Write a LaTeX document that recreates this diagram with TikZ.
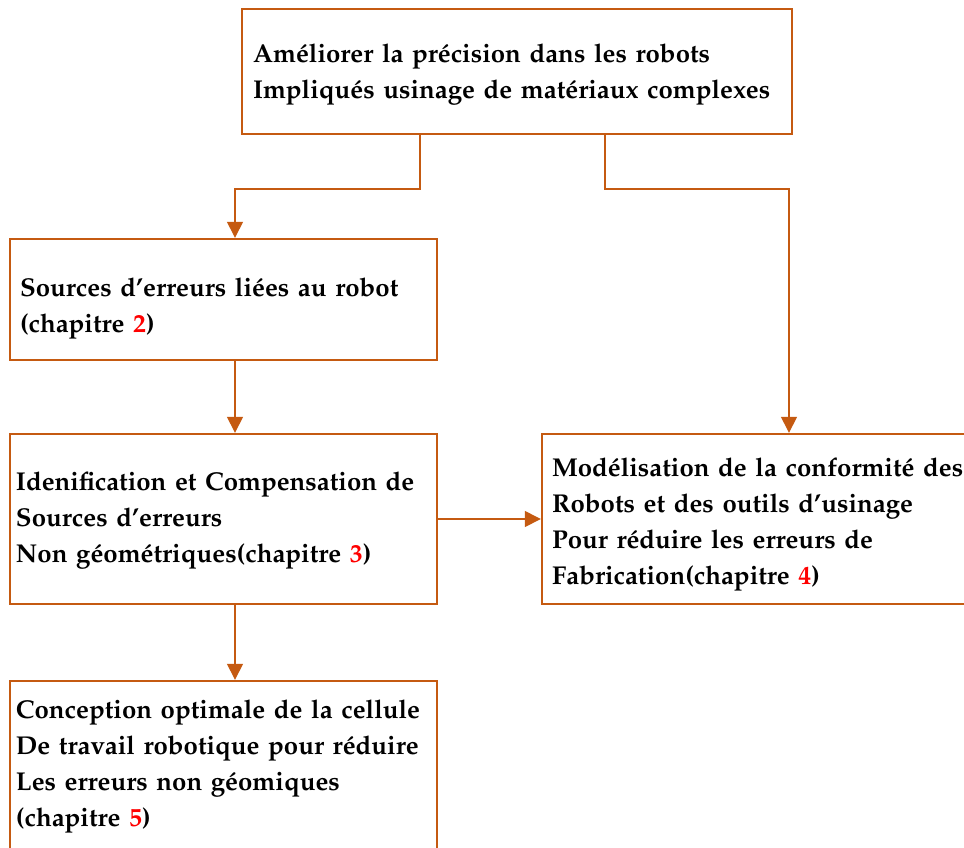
\documentclass[tikz,border=0pt]{standalone}
\usepackage[T1]{fontenc}
\usepackage{mathpazo}
\usepackage{xcolor}
\usetikzlibrary{arrows.meta}

\definecolor{brun}{RGB}{197,90,17}
\newcommand{\chap}[1]{\textcolor{red}{#1}}

\tikzset{
    boite/.style={draw=brun, line width=1.2pt, align=left, inner xsep=5pt, inner ysep=0pt,
        font=\fontsize{12.9}{18}\selectfont\bfseries},
    fleche/.style={draw=brun, line width=0.7pt, -{Triangle[length=8pt, width=8pt]}}
}

\begin{document}
\begin{tikzpicture}[x=0.5pt, y=-0.5pt]
    % 1. CADRE DE LA FIGURE
    \useasboundingbox (0,0) rectangle (964,847);

    % 2. LES BOITES
    \node[boite, text width=264pt, inner xsep=5.5pt, text height=12pt, minimum height=62.5pt] (but) at (517,71.5)
        {Améliorer la précision dans les robots\\Impliqués usinage de matériaux complexes};
    \node[boite, text width=203.5pt, text height=18pt, minimum height=60.5pt] (src) at (223.5,299.5)
        {Sources d'erreurs liées au robot\\(chapitre \chap{2})};
    \node[boite, text width=207.5pt, inner xsep=3pt, text height=11pt, minimum height=85pt] (ide) at (223.5,519)
        {Idenification et Compensation de\\Sources d'erreurs\\Non géométriques(chapitre \chap{3})};
    \node[boite, text width=214pt, text height=15pt, minimum height=85pt] (mod) at (766,519)
        {Modélisation de la conformité des\\Robots et des outils d'usinage\\Pour réduire les erreurs de\\Fabrication(chapitre \chap{4})};
    \node[boite, text width=207.5pt, inner xsep=3pt, minimum height=85pt] (conc) at (223.5,766)
        {Conception optimale de la cellule\\De travail robotique pour réduire\\Les erreurs non géomiques\\(chapitre \chap{5})};

    % 3. POINTS DE PASSAGE DES FLECHES
    \coordinate (col) at (235,0);
    \coordinate (coudeG) at (420,189);
    \coordinate (coudeD) at (605,189);
    \coordinate (colD) at (789,189);

    % 4. LES FLECHES
    \draw[fleche] (but.south -| coudeG) -- (coudeG) -| (src.north -| col);
    \draw[fleche] (but.south -| coudeD) -- (coudeD) -- (colD) -- (mod.north -| colD);
    \draw[fleche] (src.south -| col) -- (ide.north -| col);
    \draw[fleche] (ide.east) -- (mod.west);
    \draw[fleche] (ide.south -| col) -- (conc.north -| col);

\end{tikzpicture}
\end{document}
